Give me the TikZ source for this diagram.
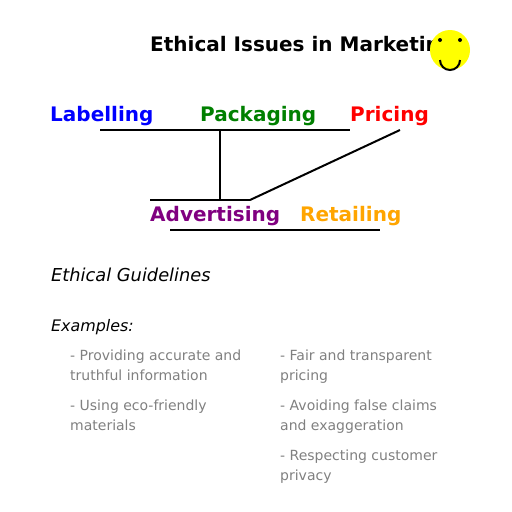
\documentclass[tikz,border=0pt]{standalone}
\usepackage{fontspec}
\setmainfont{DejaVu Sans}
\definecolor{adv}{RGB}{128,0,128}
\definecolor{grn}{RGB}{0,128,0}
\definecolor{org}{RGB}{255,165,0}
\definecolor{gry}{RGB}{128,128,128}
\definecolor{sun}{RGB}{255,255,0}
\tikzset{
 lbl/.style={anchor=base west,inner sep=0pt,font=\fontsize{20}{24}\selectfont\bfseries},
 ttl/.style={anchor=base west,inner sep=0pt,font=\fontsize{20}{24}\selectfont\bfseries},
 item/.style={anchor=base west,inner sep=0pt,text=gry,font=\fontsize{14}{17}\selectfont},
 conn/.style={draw=black,line width=2pt}
}
\begin{document}
\begin{tikzpicture}[x=1pt,y=-1pt]
\useasboundingbox (0,0) rectangle (512,512);
\node[ttl] (title) at (150,51.2) {Ethical Issues in Marketing};
\fill[sun] (450,50) circle (20);
\fill[black] (440,40) circle (2);
\fill[black] (460,40) circle (2);
\draw[line width=2pt] (440,60) arc[start angle=180,end angle=0,radius=10];
\node[lbl,text=blue] (lab) at (50,121.2) {Labelling};
\node[lbl,text=grn] (pack) at (200,121.2) {Packaging};
\node[lbl,text=red] (pri) at (350,121.2) {Pricing};
\node[lbl,text=adv] (adv) at (150,221.2) {Advertising};
\node[lbl,text=org] (ret) at (300,221.2) {Retailing};
\coordinate (a) at (100,130);
\coordinate (b) at (350,130);
\coordinate (c) at (220,130);
\coordinate (d) at (220,200);
\coordinate (e) at (150,200);
\coordinate (f) at (250,200);
\coordinate (g) at (400,130);
\coordinate (h) at (170,230);
\coordinate (i) at (380,230);
\draw[conn] (a) -- (b);
\draw[conn] (c) -- (d);
\draw[conn] (e) -- (f);
\draw[conn] (f) -- (g);
\draw[conn] (h) -- (i);
\node[anchor=base west,inner sep=0pt,font=\fontsize{17.8}{22}\selectfont\itshape] (eg) at (51,281.2) {Ethical Guidelines};
\node[anchor=base west,inner sep=0pt,font=\fontsize{15.9}{19}\selectfont\itshape] (ex) at (51,331.2) {Examples:};
\node[item] (i1) at (70,360.6) {- Providing accurate and};
\node[item] (i1b) at (70,380.6) {truthful information};
\node[item] (i2) at (70,410.6) {- Using eco-friendly};
\node[item] (i2b) at (70,430.6) {materials};
\node[item] (j1) at (280,360.6) {- Fair and transparent};
\node[item] (j1b) at (280,380.6) {pricing};
\node[item] (j2) at (280,410.6) {- Avoiding false claims};
\node[item] (j2b) at (280,430.6) {and exaggeration};
\node[item] (j3) at (280,460.6) {- Respecting customer};
\node[item] (j3b) at (280,480.6) {privacy};
\end{tikzpicture}
\end{document}
